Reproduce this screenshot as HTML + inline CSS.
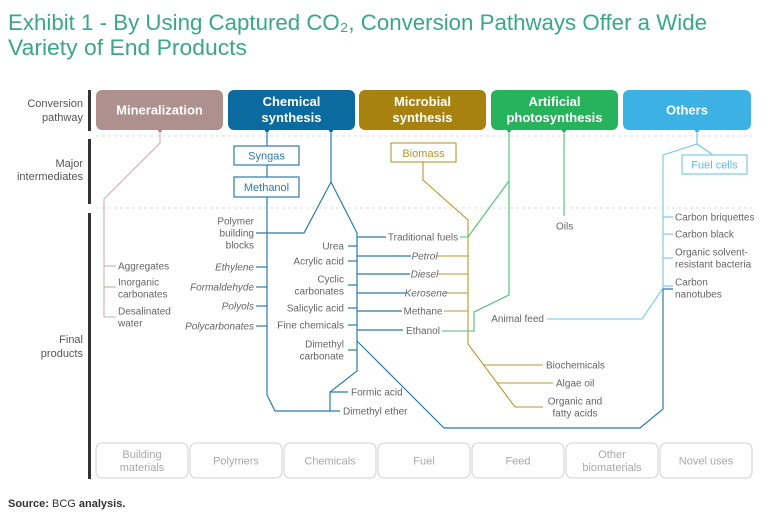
<!DOCTYPE html>
<html><head><meta charset="utf-8"><style>
html,body{margin:0;padding:0;background:#fff;}
svg{display:block;}
text{font-family:"Liberation Sans",Arial,sans-serif;}
</style></head><body>
<svg width="768" height="522" viewBox="0 0 768 522" xmlns="http://www.w3.org/2000/svg">
<!-- Title -->
<text x="8" y="30" font-size="22" fill="#3aa68a" textLength="699" lengthAdjust="spacingAndGlyphs">Exhibit 1 - By Using Captured CO₂, Conversion Pathways Offer a Wide</text>
<text x="8" y="55" font-size="22" fill="#3aa68a" textLength="239" lengthAdjust="spacingAndGlyphs">Variety of End Products</text>

<!-- left bars -->
<rect x="88" y="90" width="3" height="41" fill="#333"/>
<rect x="88" y="139" width="3" height="65" fill="#333"/>
<rect x="88" y="213" width="3" height="266" fill="#333"/>

<!-- left labels -->
<g font-size="11" fill="#555" text-anchor="end">
<text x="83" y="107">Conversion</text><text x="83" y="121">pathway</text>
<text x="83" y="167">Major</text><text x="83" y="180">intermediates</text>
<text x="83" y="343">Final</text><text x="83" y="357">products</text>
</g>

<!-- dashed separators -->
<line x1="96" y1="136" x2="752" y2="136" stroke="#dcdcdc" stroke-dasharray="3,3"/>
<line x1="96" y1="208" x2="752" y2="208" stroke="#dcdcdc" stroke-dasharray="3,3"/>

<!-- header boxes -->
<rect x="96" y="90" width="127" height="40" rx="6" fill="#ae918e"/>
<rect x="228" y="90" width="127" height="40" rx="6" fill="#0b6a9f"/>
<rect x="359" y="90" width="127" height="40" rx="6" fill="#a8820e"/>
<rect x="491" y="90" width="127" height="40" rx="6" fill="#27b25c"/>
<rect x="623" y="90" width="128" height="40" rx="6" fill="#3cb1e3"/>
<g font-size="13" font-weight="bold" fill="#fff" text-anchor="middle">
<text x="159.5" y="114.5">Mineralization</text>
<text x="291.5" y="106">Chemical</text><text x="291.5" y="122">synthesis</text>
<text x="422.5" y="106">Microbial</text><text x="422.5" y="122">synthesis</text>
<text x="554.5" y="106">Artificial</text><text x="554.5" y="122">photosynthesis</text>
<text x="687" y="114.5">Others</text>
</g>

<!-- Mineralization lines -->
<g stroke="#c9afac" stroke-width="1.1" fill="none">
<polyline points="160,130 160,143 104,199 104,317 116,317"/>
<line x1="104" y1="266" x2="116" y2="266"/>
<line x1="104" y1="287" x2="116" y2="287"/>
</g>
<circle cx="160" cy="130" r="2.2" fill="#ae918e"/>

<!-- Chemical synthesis lines -->
<g stroke="#2b7bab" stroke-width="1.2" fill="none">
<line x1="267" y1="130" x2="267" y2="146"/>
<line x1="267" y1="165" x2="267" y2="177"/>
<polyline points="267,197 267,395 275,411 340,411"/>
<line x1="256" y1="267" x2="267" y2="267"/>
<line x1="256" y1="287" x2="267" y2="287"/>
<line x1="256" y1="306" x2="267" y2="306"/>
<line x1="256" y1="326" x2="267" y2="326"/>
<polyline points="331,130 331,182 304,233 256,233"/>
<polyline points="331,182 357,233 357,371 330,392 330,411"/>
<line x1="330" y1="392" x2="348" y2="392"/>
<line x1="357" y1="237" x2="386" y2="237"/>
<line x1="357" y1="256" x2="411" y2="256"/>
<line x1="357" y1="274" x2="410" y2="274"/>
<line x1="357" y1="293" x2="406" y2="293"/>
<line x1="357" y1="311" x2="402" y2="311"/>
<line x1="357" y1="330" x2="403" y2="330"/>
<line x1="348" y1="246" x2="357" y2="246"/>
<line x1="348" y1="261" x2="357" y2="261"/>
<line x1="348" y1="285" x2="357" y2="285"/>
<line x1="348" y1="308" x2="357" y2="308"/>
<line x1="348" y1="325" x2="357" y2="325"/>
<line x1="348" y1="350" x2="357" y2="350"/>
<polyline points="357,341 444,428 640,428 663,409 663,289 673,289"/>
</g>
<rect x="234" y="146" width="65" height="19" fill="#fff" stroke="#2b7bab" stroke-width="1.2"/>
<rect x="234" y="177" width="65" height="20" fill="#fff" stroke="#2b7bab" stroke-width="1.2"/>
<g font-size="11" fill="#2b7bab" text-anchor="middle">
<text x="266.5" y="159.5">Syngas</text>
<text x="266.5" y="191">Methanol</text>
</g>
<circle cx="267" cy="130" r="2.2" fill="#0b6a9f"/>
<circle cx="331" cy="130" r="2.2" fill="#0b6a9f"/>

<!-- Microbial lines -->
<g stroke="#b8962f" stroke-width="1.1" fill="none">
<polyline points="423,162 423,180 468,220 468,344 515,407 543,407"/>
<line x1="437" y1="256" x2="468" y2="256"/>
<line x1="438" y1="274" x2="468" y2="274"/>
<line x1="445" y1="293" x2="468" y2="293"/>
<line x1="444" y1="311" x2="468" y2="311"/>
<line x1="484" y1="365" x2="543" y2="365"/>
<line x1="497" y1="383" x2="553" y2="383"/>
</g>
<rect x="391" y="143" width="65" height="19" fill="#fff" stroke="#b8962f" stroke-width="1.1"/>
<text x="423.5" y="157" font-size="11" fill="#b8962f" text-anchor="middle">Biomass</text>

<!-- Artificial photosynthesis lines -->
<g stroke="#4cbf6e" stroke-width="1.1" fill="none">
<polyline points="509,130 509,295 474,312 474,331 442,331"/>
<polyline points="509,181 468,237 460,237"/>
<line x1="564" y1="130" x2="564" y2="216"/>
</g>
<circle cx="509" cy="130" r="2.2" fill="#27b25c"/>
<circle cx="564" cy="130" r="2.2" fill="#27b25c"/>

<!-- Others lines -->
<g stroke="#6fc6ec" stroke-width="1.1" fill="none">
<polyline points="697,130 697,144 663,155 663,288 642,319 547,319"/>
<line x1="697" y1="144" x2="713" y2="155"/>
<line x1="663" y1="217" x2="673" y2="217"/>
<line x1="663" y1="234" x2="673" y2="234"/>
<line x1="663" y1="258" x2="673" y2="258"/>
<line x1="663" y1="286" x2="673" y2="286"/>
</g>
<rect x="682" y="155" width="65" height="19" fill="#fff" stroke="#6fc6ec" stroke-width="1.1"/>
<text x="714.5" y="168.5" font-size="11" fill="#5bbde8" text-anchor="middle">Fuel cells</text>
<circle cx="697" cy="130" r="2.2" fill="#3cb1e3"/>

<!-- Final product texts -->
<g font-size="10" fill="#666">
<text x="118" y="269.5">Aggregates</text>
<text x="118" y="285.5">Inorganic</text><text x="118" y="297.5">carbonates</text>
<text x="118" y="314.5">Desalinated</text><text x="118" y="326.5">water</text>

<g text-anchor="end">
<text x="254" y="224.5">Polymer</text><text x="254" y="236.5">building</text><text x="254" y="248.5">blocks</text>
<g font-style="italic">
<text x="254" y="270.5">Ethylene</text>
<text x="254" y="290.5">Formaldehyde</text>
<text x="254" y="309.5">Polyols</text>
<text x="254" y="329.5">Polycarbonates</text>
</g>
<text x="344" y="249.5">Urea</text>
<text x="344" y="264.5">Acrylic acid</text>
<text x="344" y="282.5">Cyclic</text><text x="344" y="294.5">carbonates</text>
<text x="344" y="311.5">Salicylic acid</text>
<text x="344" y="328.5">Fine chemicals</text>
<text x="344" y="347.5">Dimethyl</text><text x="344" y="359.5">carbonate</text>
<text x="544" y="322">Animal feed</text>
</g>
<text x="351" y="395.5">Formic acid</text>
<text x="343" y="414.5">Dimethyl ether</text>

<g text-anchor="middle">
<text x="423" y="240.5">Traditional fuels</text>
<text x="424.5" y="259.5" font-style="italic">Petrol</text>
<text x="424.5" y="277.5" font-style="italic">Diesel</text>
<text x="426" y="296.5" font-style="italic">Kerosene</text>
<text x="423" y="314.5">Methane</text>
<text x="423" y="334">Ethanol</text>
<text x="575" y="404.5">Organic and</text>
<text x="575" y="416.5">fatty acids</text>
</g>
<text x="556" y="229.5">Oils</text>
<text x="546" y="368.5">Biochemicals</text>
<text x="556" y="386.5">Algae oil</text>

<text x="675" y="220.5">Carbon briquettes</text>
<text x="675" y="237.5">Carbon black</text>
<text x="675" y="255.5">Organic solvent-</text>
<text x="675" y="267.5">resistant bacteria</text>
<text x="675" y="285.5">Carbon</text>
<text x="675" y="297.5">nanotubes</text>
</g>

<!-- bottom category boxes -->
<g fill="#fff" stroke="#d2d2d2" stroke-width="1">
<rect x="96" y="443" width="92" height="35" rx="6"/>
<rect x="190" y="443" width="92" height="35" rx="6"/>
<rect x="284" y="443" width="92" height="35" rx="6"/>
<rect x="378" y="443" width="92" height="35" rx="6"/>
<rect x="472" y="443" width="92" height="35" rx="6"/>
<rect x="566" y="443" width="92" height="35" rx="6"/>
<rect x="660" y="443" width="92" height="35" rx="6"/>
</g>
<g font-size="11" fill="#a9a9a9" text-anchor="middle">
<text x="142" y="458">Building</text><text x="142" y="471">materials</text>
<text x="236" y="464.5">Polymers</text>
<text x="330" y="464.5">Chemicals</text>
<text x="424" y="464.5">Fuel</text>
<text x="518" y="464.5">Feed</text>
<text x="612" y="458">Other</text><text x="612" y="471">biomaterials</text>
<text x="706" y="464.5">Novel uses</text>
</g>

<!-- source -->
<text x="8" y="507" font-size="11" fill="#333"><tspan font-weight="bold">Source:</tspan> BCG <tspan font-weight="bold">analysis.</tspan></text>
</svg>
</body></html>
